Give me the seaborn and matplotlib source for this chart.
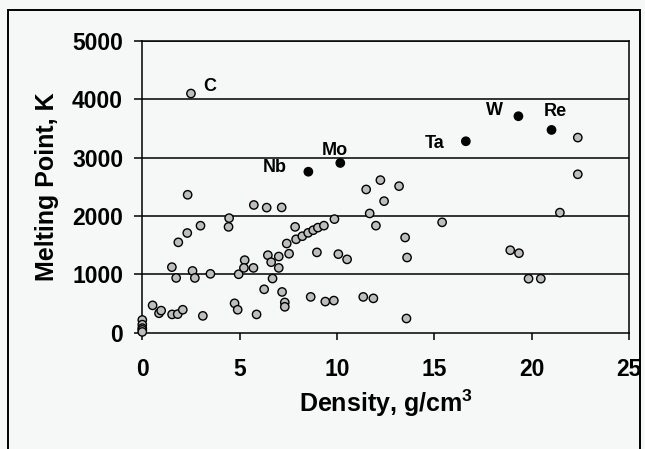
import pandas as pd
import seaborn as sns
import matplotlib.pyplot as plt
from matplotlib.patches import Rectangle

# densidade (g/cm3) e ponto de fusao (K) dos elementos
gray_density = [0.0, 0.0, 0.0, 0.0, 0.0,
                0.53, 0.86, 0.97, 1.52, 1.53, 1.82, 1.74, 1.85, 2.08, 2.31,
                2.33, 2.50, 2.58, 2.70, 2.99, 3.11, 3.50, 4.46, 4.43, 4.74,
                4.90, 4.95, 5.26, 5.22, 5.71, 5.73, 5.87, 6.26, 6.39, 6.45,
                6.62, 6.69, 7.01, 7.01, 7.16, 7.42, 7.54, 7.18, 7.32, 7.32,
                7.85, 7.90, 8.22, 8.52, 8.78, 9.02, 9.33, 9.87, 8.97, 8.65,
                9.40, 9.84, 10.07, 10.52, 11.35, 11.87, 11.50, 12.23, 11.68, 12.00,
                12.42, 13.19, 13.50, 13.60, 13.57, 15.40, 18.90, 19.35, 19.84, 20.47,
                21.45, 22.37, 22.37]
gray_melting = [220, 140, 80, 50, 15,
                470, 335, 380, 1125, 315, 320, 940, 1550, 395, 1710,
                2365, 4100, 1060, 940, 1835, 290, 1010, 1965, 1815, 505,
                395, 1003, 1245, 1112, 1112, 2190, 315, 745, 2145, 1330,
                1210, 930, 1307, 1112, 2148, 1530, 1355, 700, 520, 445,
                1815, 1602, 1655, 1713, 1758, 1802, 1836, 1948, 1378, 615,
                535, 552, 1348, 1258, 615, 590, 2456, 2616, 2045, 1836,
                2256, 2513, 1633, 1290, 245, 1893, 1415, 1364, 927, 927,
                2059, 3345, 2716]

# metais refratarios destacados em preto
refr_names = ['Nb', 'Mo', 'Ta', 'W', 'Re']
refr_density = [8.53, 10.17, 16.62, 19.32, 21.02]
refr_melting = [2760, 2910, 3282, 3711, 3476]

x_ticks = [0, 5, 10, 15, 20, 25]
y_ticks = [0, 1000, 2000, 3000, 4000, 5000]

df = pd.DataFrame({
    'density': gray_density + refr_density,
    'melting': gray_melting + refr_melting,
    'group': ['other'] * len(gray_density) + ['refractory'] * len(refr_density),
})

sns.set_style('white')
plt.rcParams['font.family'] = ['Liberation Sans', 'DejaVu Sans']
plt.rcParams['font.weight'] = 'bold'
plt.rcParams['text.color'] = 'black'
plt.rcParams['axes.labelcolor'] = 'black'
plt.rcParams['xtick.color'] = 'black'
plt.rcParams['ytick.color'] = 'black'
plt.rcParams['mathtext.fontset'] = 'custom'
plt.rcParams['mathtext.rm'] = 'Liberation Sans:bold'
plt.rcParams['mathtext.it'] = 'Liberation Sans:bold'
plt.rcParams['mathtext.bf'] = 'Liberation Sans:bold'

bg = '#f6f8f8'
fig = plt.figure(figsize=(6.45, 4.49), dpi=100, facecolor=bg)
ax = fig.add_axes([0.2206, 0.2588, 0.7546, 0.6499], facecolor=bg)

# borda externa da figura
fig.patches.append(Rectangle((8 / 645, -0.1), 632 / 645, 1.1 - 10 / 449,
                             transform=fig.transFigure, fill=False,
                             edgecolor='black', linewidth=1.4))

for y in y_ticks[1:]:
    ax.axhline(y, color='black', linewidth=1.1, zorder=1)

sns.scatterplot(data=df, x='density', y='melting', hue='group',
                palette={'other': '#bdbdbd', 'refractory': 'black'},
                edgecolor='black', linewidth=1.0, s=36, legend=False,
                zorder=3, clip_on=False, ax=ax)

ax.annotate('C', (gray_density[16], gray_melting[16]), xytext=(13.5, 5),
            textcoords='offset points', ha='center', va='center', fontsize=13)
offsets = {'Nb': (-24, 3), 'Mo': (-4, 9), 'Ta': (-22.5, -1.5),
           'W': (-17, 4), 'Re': (2.5, 13.5)}
for name, xd, yd in zip(refr_names, refr_density, refr_melting):
    ax.annotate(name, (xd, yd), xytext=offsets[name], textcoords='offset points',
                ha='center', va='center', fontsize=13)

ax.set_xlim(0, 25)
ax.set_ylim(0, 5000)
ax.set_xticks(x_ticks)
ax.set_yticks(y_ticks)
ax.tick_params(axis='x', direction='out', length=5, width=1.1, pad=13,
               labelsize=16.5, bottom=True)
ax.tick_params(axis='y', direction='out', length=5.8, width=1.1, pad=8,
               labelsize=16.5, left=True)
for lab in ax.get_xticklabels() + ax.get_yticklabels():
    lab.set_fontweight('bold')
for sp in ax.spines.values():
    sp.set_color('black')
    sp.set_linewidth(1.1)

ax.set_xlabel('Density, g/cm$^{3}$', fontsize=18, fontweight='bold', labelpad=5)
ax.set_ylabel('Melting Point, K', fontsize=18, fontweight='bold', labelpad=9)

fig.savefig('out.png', dpi=100, facecolor=bg)
